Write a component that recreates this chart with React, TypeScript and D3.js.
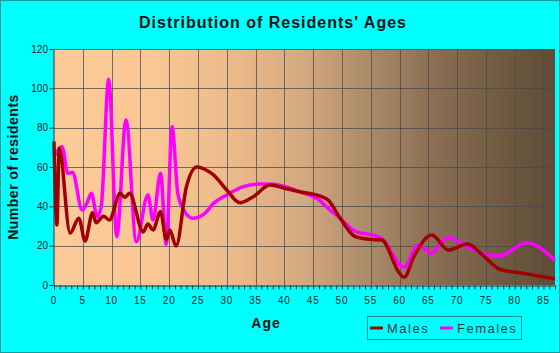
import React, { useEffect, useRef } from 'react';
import * as d3 from 'd3';

// readings (age, residents)
const maleAges = [0, 0.5, 0.9, 2.8, 4.3, 5.4, 6.7, 7.3, 8.6, 9.6, 11.5, 12.3, 13.1, 15.5, 16.3, 17.2, 18.5, 19.5, 20.1, 21.2, 23, 24.8, 26.4, 27.7, 30, 32.3, 34.6, 37.5, 40.1, 42.7, 45, 47.6, 49.7, 52.3, 54.9, 56.9, 60, 60.8, 62.5, 65.6, 68.5, 71.8, 74, 77.4, 81.5, 87];
const maleCounts = [73, 30.5, 69.6, 26.4, 34, 22.4, 36.8, 31.7, 35, 33, 46.6, 44.6, 46.6, 27, 31, 28, 37.3, 22.9, 28, 19.8, 50, 60, 58.5, 56, 48.3, 41.8, 44.9, 50.8, 49.2, 47.4, 46.2, 43.2, 33.9, 24.6, 23.2, 22.9, 6, 3.9, 14.5, 25.4, 17.8, 20.8, 16.4, 8, 5.9, 3.2];

const femaleAges = [0.2, 1.4, 2.4, 3.2, 4.9, 5.7, 6.5, 7.5, 8.2, 9.5, 10.9, 12.5, 14.3, 16.3, 17.2, 18.5, 19.5, 20.5, 21.5, 22.7, 24.1, 26.2, 27.7, 30, 32.9, 35.8, 38.1, 42.7, 46.2, 47.3, 49.7, 52.5, 55.4, 56.9, 60.8, 63.2, 65.6, 66.9, 68.5, 71.7, 74.3, 77.4, 82, 87];
const femaleCounts = [66, 70.3, 56.8, 57.3, 38.1, 41.5, 46.6, 34.7, 39.8, 104.6, 24.6, 83.9, 22, 45.8, 33, 56.8, 20.7, 80.5, 46.6, 37.3, 33.9, 36.4, 41.5, 45.8, 50, 51.3, 51.2, 47.4, 42.9, 39.8, 33.9, 27, 25.4, 23.7, 9, 20.3, 16.1, 20.3, 24.2, 19.5, 16.1, 14.7, 21.5, 12.5];

const xTicks = [0, 5, 10, 15, 20, 25, 30, 35, 40, 45, 50, 55, 60, 65, 70, 75, 80, 85];
const yTicks = [0, 20, 40, 60, 80, 100, 120];

const W = 560;
const H = 353;
const m = { left: 54, right: 5, top: 49, bottom: 68 };
const font = "'Liberation Sans', Arial, sans-serif";

function AgeChart() {
  const ref = useRef<SVGSVGElement | null>(null);

  useEffect(() => {
    const svg = d3.select(ref.current);
    svg.selectAll('*').remove();

    const x = d3.scaleLinear().domain([0, 87]).range([m.left, W - m.right]);
    const y = d3.scaleLinear().domain([0, 120]).range([H - m.bottom, m.top]);

    svg.append('rect').attr('x', 0.5).attr('y', 0.5).attr('width', W - 1).attr('height', H - 1)
      .attr('fill', '#00ffff').attr('stroke', '#169c9c');

    const grad = svg.append('defs').append('linearGradient').attr('id', 'bg')
      .attr('x1', 0).attr('x2', 1).attr('y1', 0).attr('y2', 0);
    [
      [0, '#fdcb9a'], [0.2, '#f9c694'], [0.35, '#edba8b'], [0.5, '#d3a97f'],
      [0.62, '#ad8c6b'], [0.75, '#8c7055'], [0.88, '#725c44'], [1, '#5f4b36']
    ].forEach(([o, c]) => grad.append('stop').attr('offset', o as number).attr('stop-color', c as string));

    svg.append('rect')
      .attr('x', x(0)).attr('y', y(120))
      .attr('width', x(87) - x(0)).attr('height', y(0) - y(120))
      .attr('fill', 'url(#bg)');

    // grid
    const grid = svg.append('g').attr('stroke', '#4a4a4a').attr('stroke-opacity', 0.75).attr('stroke-width', 1);
    xTicks.filter(t => t > 0).forEach(t => {
      grid.append('line').attr('x1', Math.round(x(t)) + 0.5).attr('x2', Math.round(x(t)) + 0.5)
        .attr('y1', y(120)).attr('y2', y(0));
    });
    yTicks.filter(t => t > 0).forEach(t => {
      grid.append('line').attr('y1', Math.round(y(t)) + 0.5).attr('y2', Math.round(y(t)) + 0.5)
        .attr('x1', x(0)).attr('x2', x(87));
    });

    // lines
    const line = d3.line<[number, number]>()
      .x(d => x(d[0])).y(d => y(d[1]))
      .curve(d3.curveMonotoneX);

    svg.append('path')
      .datum(femaleAges.map((a, i) => [a, femaleCounts[i]] as [number, number]))
      .attr('fill', 'none').attr('stroke', '#ff00ff').attr('stroke-width', 3.5)
      .attr('stroke-linejoin', 'round').attr('d', line);

    svg.append('path')
      .datum(maleAges.map((a, i) => [a, maleCounts[i]] as [number, number]))
      .attr('fill', 'none').attr('stroke', '#a00000').attr('stroke-width', 3.5)
      .attr('stroke-linejoin', 'round').attr('d', line);

    // axes
    const xAxis = svg.append('g').attr('transform', `translate(0,${y(0) + 0.5})`)
      .call(d3.axisBottom(x).tickValues(d3.range(0, 88)).tickSize(4).tickFormat(() => ''));
    xAxis.select('.domain').attr('stroke', '#333');
    xAxis.selectAll('line').attr('stroke', '#333');

    svg.append('g').selectAll('text').data(xTicks).join('text')
      .attr('x', d => x(d)).attr('y', y(0) + 19)
      .attr('text-anchor', 'middle').attr('font-family', font).attr('font-size', 10)
      .attr('letter-spacing', 0.8).attr('fill', '#222').text(d => d);

    const yAxis = svg.append('g').attr('transform', `translate(${x(0) - 0.5},0)`)
      .call(d3.axisLeft(y).tickValues(yTicks).tickSize(4).tickFormat(() => ''));
    yAxis.select('.domain').attr('stroke', '#333');
    yAxis.selectAll('line').attr('stroke', '#333');

    svg.append('g').selectAll('text').data(yTicks).join('text')
      .attr('x', x(0) - 6).attr('y', d => y(d) + 3.5)
      .attr('text-anchor', 'end').attr('font-family', font).attr('font-size', 10)
      .attr('fill', '#222').text(d => d);

    // titles
    svg.append('text').attr('x', 273).attr('y', 28).attr('text-anchor', 'middle')
      .attr('font-family', font).attr('font-size', 16).attr('font-weight', 'bold')
      .attr('letter-spacing', 1).attr('fill', '#111').text("Distribution of Residents' Ages");

    svg.append('text').attr('transform', `translate(18,167) rotate(-90)`).attr('text-anchor', 'middle')
      .attr('font-family', font).attr('font-size', 14).attr('font-weight', 'bold')
      .attr('letter-spacing', 0.5).attr('fill', '#111').text('Number of residents');

    svg.append('text').attr('x', 266).attr('y', 328).attr('text-anchor', 'middle')
      .attr('font-family', font).attr('font-size', 14).attr('font-weight', 'bold')
      .attr('letter-spacing', 1).attr('fill', '#111').text('Age');

    // legend
    const lg = svg.append('g');
    lg.append('rect').attr('x', 367.5).attr('y', 316.5).attr('width', 154).attr('height', 23)
      .attr('fill', 'none').attr('stroke', '#168a8a');
    [['Males', '#a00000', 370], ['Females', '#ff00ff', 440]].forEach(([label, color, lx]) => {
      lg.append('line').attr('x1', lx as number).attr('x2', (lx as number) + 13)
        .attr('y1', 328).attr('y2', 328).attr('stroke', color as string).attr('stroke-width', 3);
      lg.append('text').attr('x', (lx as number) + 17).attr('y', 333)
        .attr('font-family', font).attr('font-size', 13).attr('letter-spacing', 1.5)
        .attr('fill', '#0d3b3b').text(label as string);
    });
  }, []);

  return <svg ref={ref} width={W} height={H} style={{ position: 'absolute', left: 0, top: 0, display: 'block' }} />;
}

export default function App() {
  return <AgeChart />;
}
